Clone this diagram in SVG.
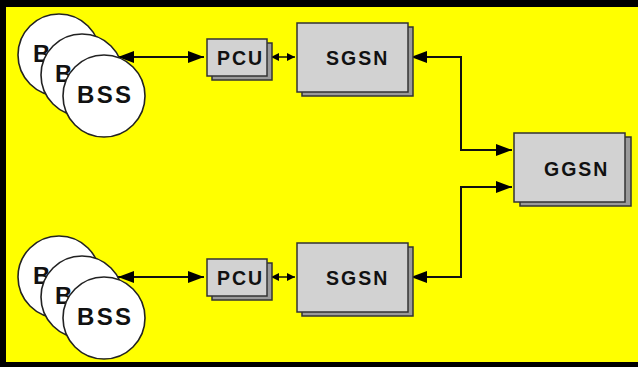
<svg xmlns="http://www.w3.org/2000/svg" width="638" height="367" viewBox="0 0 638 367">
<style>
.bss{fill:#fff;stroke:#222;stroke-width:1.6}
.bt{font-family:"Liberation Sans",Arial,sans-serif;font-weight:bold;font-size:24px;letter-spacing:2.3px;fill:#111}
.main{fill:#d2d2d2;stroke:#333;stroke-width:1.5}
.sh{fill:#9a9a9a;stroke:#333;stroke-width:1.5}
.lbl{font-family:"Liberation Sans",Arial,sans-serif;font-weight:bold;font-size:19.5px;letter-spacing:2px;fill:#111}
.ln{fill:none;stroke:#111;stroke-width:2}
.ln2{fill:none;stroke:#111;stroke-width:1.5}
</style>
<defs>
<marker id="ah" viewBox="0 0 16 12" refX="16" refY="6" markerWidth="16" markerHeight="12" markerUnits="userSpaceOnUse" orient="auto-start-reverse">
<path d="M0,0 L16,6 L0,12 Z" fill="#000"/>
</marker>
<marker id="as" viewBox="0 0 8 8" refX="8" refY="4" markerWidth="8" markerHeight="8" markerUnits="userSpaceOnUse" orient="auto-start-reverse">
<path d="M0,0 L8,4 L0,8 Z" fill="#000"/>
</marker>
</defs>
<rect x="0" y="0" width="638" height="367" fill="#000"/>
<rect x="6" y="7" width="632" height="355" fill="#ffff00"/>

<g id="connectors">
<line class="ln" x1="118" y1="57" x2="204" y2="57" marker-start="url(#ah)" marker-end="url(#ah)"/>
<line class="ln2" x1="271" y1="57" x2="295" y2="57" marker-start="url(#as)" marker-end="url(#as)"/>
<polyline class="ln" points="411,57 461,57 461,150 512,150" marker-start="url(#ah)" marker-end="url(#ah)"/>
<line class="ln" x1="118" y1="277" x2="204" y2="277" marker-start="url(#ah)" marker-end="url(#ah)"/>
<line class="ln2" x1="271" y1="277" x2="295" y2="277" marker-start="url(#as)" marker-end="url(#as)"/>
<polyline class="ln" points="411,277 461,277 461,187 512,187" marker-start="url(#ah)" marker-end="url(#ah)"/>
</g>

<g id="bss-top">
<circle class="bss" cx="59" cy="55" r="41"/>
<text class="bt" x="33" y="62">B</text>
<circle class="bss" cx="82" cy="75" r="41"/>
<text class="bt" x="55" y="82">B</text>
<circle class="bss" cx="104" cy="96" r="41"/>
<text class="bt" x="77" y="103">BSS</text>
</g>

<g id="pcu-top">
<rect class="sh" x="212" y="43" width="60" height="37"/>
<rect class="main" x="207" y="39" width="60" height="37"/>
<text class="lbl" x="217" y="65">PCU</text>
</g>

<g id="sgsn-top">
<rect class="sh" x="302" y="27" width="111" height="69"/>
<rect class="main" x="297" y="23" width="111" height="69"/>
<text class="lbl" x="326" y="65">SGSN</text>
</g>

<g id="ggsn">
<rect class="sh" x="520" y="137" width="111" height="69"/>
<rect class="main" x="514" y="133" width="111" height="69"/>
<text class="lbl" x="544" y="176">GGSN</text>
</g>

<g id="bss-bottom">
<circle class="bss" cx="59" cy="277" r="41"/>
<text class="bt" x="33" y="284">B</text>
<circle class="bss" cx="82" cy="297" r="41"/>
<text class="bt" x="55" y="304">B</text>
<circle class="bss" cx="104" cy="318" r="41"/>
<text class="bt" x="77" y="325">BSS</text>
</g>

<g id="pcu-bottom">
<rect class="sh" x="212" y="263" width="60" height="37"/>
<rect class="main" x="207" y="259" width="60" height="37"/>
<text class="lbl" x="217" y="285">PCU</text>
</g>

<g id="sgsn-bottom">
<rect class="sh" x="302" y="247" width="111" height="69"/>
<rect class="main" x="297" y="243" width="111" height="69"/>
<text class="lbl" x="326" y="285">SGSN</text>
</g>
</svg>
